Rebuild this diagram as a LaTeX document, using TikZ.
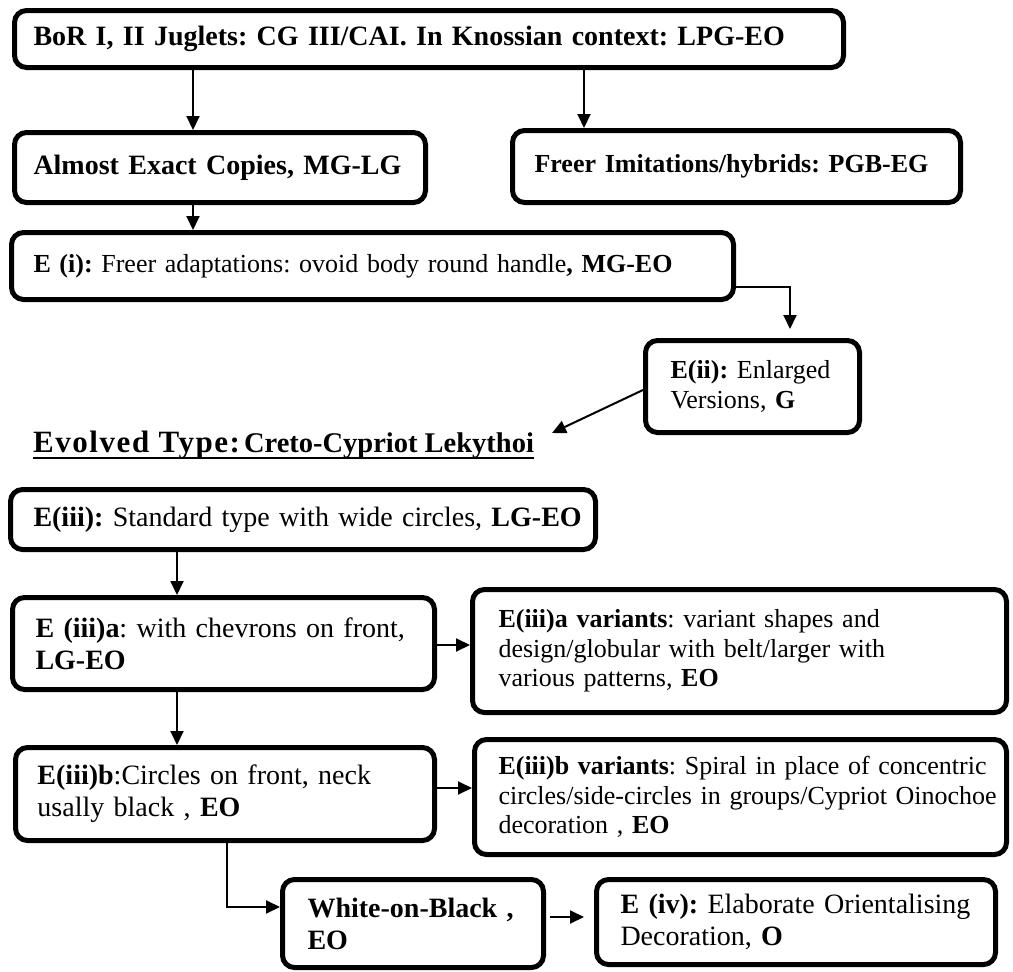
\documentclass[tikz,border=0pt]{standalone}
\usepackage{fontspec}
\setmainfont{Liberation Serif}
\usetikzlibrary{arrows.meta}
\begin{document}
\frenchspacing
\begin{tikzpicture}[x=1pt,y=-1pt,
  box/.style={draw, line width=5pt, outer sep=2.5pt, rounded corners=12pt, anchor=north west, fill=white, inner ysep=0pt, align=left},
  arr/.style={line width=2pt, -{Triangle[length=14pt,width=13pt]}},
  big/.style={font=\fontsize{28}{32}\selectfont},
  mid/.style={font=\fontsize{26}{29.5}\selectfont}]
\useasboundingbox (0,0) rectangle (1013,972);

% boxes
\node[box,big,inner xsep=19pt,text width=791pt,minimum height=57pt] (b1) at (12,8)
  {\mbox{\textbf{BoR I, II Juglets: CG III/CAI. In Knossian context: LPG-EO}}};
\node[box,big,inner xsep=19pt,text width=373pt,minimum height=70pt] (b2) at (12,130)
  {\mbox{\textbf{Almost Exact Copies, MG-LG}}};
\node[box,mid,inner xsep=22pt,text width=404pt,minimum height=72pt] (b3) at (510,128)
  {\mbox{\textbf{Freer Imitations/hybrids: PGB-EG}}};
\node[box,mid,inner xsep=22pt,text width=678pt,minimum height=67pt] (b4) at (9,230)
  {\mbox{\textbf{E (i):} Freer adaptations: ovoid body round handle\textbf{, MG-EO}}};
\node[box,mid,inner xsep=25pt,text width=164pt,minimum height=92pt] (b5) at (643,338)
  {\mbox{\textbf{E(ii):} Enlarged}\\\mbox{Versions, \textbf{G}}};

\node[anchor=base west, inner sep=0pt] (title) at (33,452)
  {\mbox{{\fontsize{31}{34}\selectfont\addfontfeature{LetterSpace=5}\textbf{Evolved Type:}} {\fontsize{28.5}{32}\selectfont\textbf{Creto-Cypriot Lekythoi}}}};
\draw[line width=2pt] ([yshift=-6pt]title.base west) -- ([yshift=-6pt]title.base east);

\node[box,big,inner xsep=23pt,text width=539pt,minimum height=60pt] (b6) at (8,487)
  {\mbox{\textbf{E(iii):} Standard type with wide circles, \textbf{LG-EO}}};
\node[box,big,inner xsep=23pt,text width=376pt,minimum height=92pt] (b7) at (10,595)
  {\mbox{\textbf{E (iii)a}: with chevrons on front,}\\\mbox{\textbf{LG-EO}}};
\node[box,mid,inner xsep=26pt,text width=482pt,minimum height=123pt] (b8) at (470,587)
  {\mbox{\textbf{E(iii)a variants}: variant shapes and}\\\mbox{design/globular with belt/larger with}\\\mbox{various patterns, \textbf{EO}}};
\node[box,big,inner xsep=22pt,text width=375pt,minimum height=93pt] (b9) at (13,745)
  {\mbox{\textbf{E(iii)b}:Circles on front, neck}\\\mbox{usally black , \textbf{EO}}};
\node[box,mid,inner xsep=24pt,text width=484pt,minimum height=115pt] (b10) at (472,737)
  {\mbox{\textbf{E(iii)b variants}: Spiral in place of concentric}\\\mbox{circles/side-circles in groups/Cypriot Oinochoe}\\\mbox{decoration , \textbf{EO}}};
\node[box,big,inner xsep=25pt,text width=211pt,minimum height=88pt] (b11) at (280,877)
  {\mbox{\textbf{White-on-Black ,}}\\\mbox{\textbf{EO}}};
\node[box,big,inner xsep=24pt,text width=351pt,minimum height=85pt] (b12) at (594,877)
  {\mbox{\textbf{E (iv):} Elaborate Orientalising}\\\mbox{Decoration, \textbf{O}}};

% helper coordinates
\coordinate (xA) at (193,0);
\coordinate (xB) at (584,0);
\coordinate (xC) at (177,0);
\coordinate (k4) at (790,287);
\coordinate (k5) at (0,390);
\coordinate (t5) at (552,433);
\coordinate (y7) at (0,645);
\coordinate (y9) at (0,788);
\coordinate (k10) at (227,907);
\coordinate (y11) at (0,917);

% connectors
\draw[arr] (b1.south -| xA) -- (b2.north -| xA);
\draw[arr] (b1.south -| xB) -- (b3.north -| xB);
\draw[arr] (b2.south -| xA) -- (b4.north -| xA);
\draw[arr, shorten >=9pt] (b4.east |- k4) -| (b5.north -| k4);
\draw[arr] (b5.west |- k5) -- (t5);
\draw[arr] (b6.south -| xC) -- (b7.north -| xC);
\draw[arr] (b7.east |- y7) -- (b8.west |- y7);
\draw[arr] (b7.south -| xC) -- (b9.north -| xC);
\draw[arr] (b9.east |- y9) -- (b10.west |- y9);
\draw[arr] (b9.south -| k10) |- (b11.west |- k10);
\draw[arr, shorten <=4pt, shorten >=10pt] (b11.east |- y11) -- (b12.west |- y11);
\end{tikzpicture}
\end{document}
